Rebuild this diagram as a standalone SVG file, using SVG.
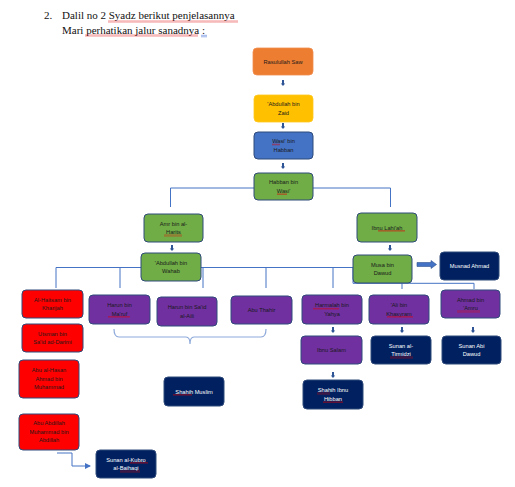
<svg xmlns="http://www.w3.org/2000/svg" width="515" height="487" viewBox="0 0 515 487">
<defs>
<style>
.t{font-family:"Liberation Sans",Arial,sans-serif;font-size:5.7px;fill:#1a1a1a;text-anchor:middle}
.w{fill:#ffffff}
.h{font-family:"Liberation Serif","Times New Roman",serif;font-size:11px;fill:#111}
.n{stroke:#2F4A7A;stroke-width:1}
.or{fill:#ED7D31;stroke:#F08D4F;stroke-width:0.8}
.ye{fill:#FFC000;stroke:#FFC81F;stroke-width:0.8}
.bl{fill:#4472C4}
.gr{fill:#70AD47}
.rd{fill:#FF0000}
.pu{fill:#7030A0}
.nv{fill:#002060}
.ln{fill:none;stroke:#4472C4;stroke-width:1}
.br{fill:none;stroke:#8EA9DB;stroke-width:1.2}
.sq{fill:url(#sqp)}
</style>
<pattern id="sqp" width="2" height="2" patternUnits="userSpaceOnUse">
<path d="M0,1.6 L1,0.4 L2,1.6" fill="none" stroke="#E00000" stroke-width="0.8"/>
</pattern>
<path id="da" d="M-1,0 H1 V3.5 H2.2 L0,6 L-2.2,3.5 H-1 Z" fill="#2F5597"/>
<marker id="ah" markerWidth="6" markerHeight="6" refX="5" refY="3" orient="auto" markerUnits="userSpaceOnUse">
<path d="M0,0 L6,3 L0,6 Z" fill="#4472C4"/>
</marker>
</defs>
<rect width="515" height="487" fill="#ffffff"/>

<g id="header">
<text class="h" x="44" y="19">2.</text>
<text class="h" x="62" y="19">Dalil no 2 Syadz berikut penjelasannya</text>
<text class="h" x="62" y="33.5">Mari perhatikan jalur sanadnya :</text>
<rect class="sq" x="108" y="20.5" width="130" height="2"/>
<rect class="sq" x="85" y="34.5" width="113" height="2"/>
<path d="M201,35.3 H207 M201,36.8 H207" stroke="#3060D0" stroke-width="0.5"/>
</g>

<g id="connectors">
<path class="ln" d="M170.5,207 V188 H390.5 V207"/>
<path class="ln" d="M56,288 V267.5 H353"/>
<path class="ln" d="M120,267.5 V288 M203,267.5 V288 M266,267.5 V288 M333,267.5 V288"/>
<path class="ln" d="M353,268 V283.3 H474 V289 M402,283.3 V289"/>
<path class="br" d="M114,329 Q114,337 119,337 H186 Q190,337 190,344 Q190,337 194,337 H261 Q266,337 266,329"/>
<path class="ln" d="M57,453 H72 V466 H90" marker-end="url(#ah)"/>
<use href="#da" x="283" y="80"/>
<use href="#da" x="283" y="123"/>
<use href="#da" x="283" y="163"/>
<use href="#da" x="172" y="245"/>
<use href="#da" x="390" y="245"/>
<use href="#da" x="333" y="327"/>
<use href="#da" x="402" y="327"/>
<use href="#da" x="473" y="327"/>
<use href="#da" x="333" y="372"/>
<path d="M417,262.5 H431 V260.5 L436.5,264.5 L431,268.5 V266.5 H417 Z" fill="#4472C4" stroke="#2F528F" stroke-width="0.6"/>
</g>

<g id="rasulullah"><rect class="or" x="253" y="48" width="60" height="27" rx="4"/><text class="t" x="283" y="63.5">Rasulullah Saw</text></g>
<g id="abdullah-zaid"><rect class="ye" x="254" y="95" width="59" height="27" rx="4"/><text class="t" x="283.5" y="106.3">'Abdullah bin</text><text class="t" x="283.5" y="114.8">Zaid</text></g>
<g id="wasi"><rect class="bl n" x="254" y="132" width="59" height="27" rx="4"/><text class="t" x="283.5" y="143.3">Wasi' bin</text><text class="t" x="283.5" y="151.8">Habban</text><rect class="sq" x="272" y="143.5" width="8" height="2"/></g>
<g id="habban"><rect class="gr n" x="254" y="173" width="59" height="27" rx="4"/><text class="t" x="283.5" y="184.3">Habban bin</text><text class="t" x="283.5" y="192.8">Wasi'</text><rect class="sq" x="277" y="193" width="10" height="2"/></g>
<g id="amr"><rect class="gr n" x="144" y="214" width="59" height="28" rx="4"/><text class="t" x="173.5" y="225.8">Amr bin al-</text><text class="t" x="173.5" y="234.3">Harits</text><rect class="sq" x="164" y="234.5" width="18" height="2"/></g>
<g id="abdullah-wahab"><rect class="gr n" x="141" y="253" width="60" height="28" rx="4"/><text class="t" x="171" y="264.8">'Abdullah bin</text><text class="t" x="171" y="273.3">Wahab</text></g>
<g id="ibnu-lahiah"><rect class="gr n" x="357" y="213" width="60" height="29" rx="4"/><text class="t" x="387" y="229.5">Ibnu Lahi'ah</text><rect class="sq" x="378" y="230" width="27" height="2"/></g>
<g id="musa"><rect class="gr n" x="353" y="255" width="59" height="28" rx="4"/><text class="t" x="382.5" y="266.8">Musa bin</text><text class="t" x="382.5" y="275.3">Dawud</text></g>
<g id="musnad-ahmad"><rect class="nv n" x="440" y="252" width="59" height="28" rx="4"/><text class="t w" x="469.5" y="268">Musnad Ahmad</text></g>
<g id="al-haitsam"><rect class="rd n" x="22" y="290" width="61" height="28" rx="4"/><text class="t" x="52.5" y="301.8">Al-Haitsam bin</text><text class="t" x="52.5" y="310.3">Kharijah</text></g>
<g id="utsman"><rect class="rd n" x="22" y="324" width="61" height="28" rx="4"/><text class="t" x="52.5" y="335.8">Utsman bin</text><text class="t" x="52.5" y="344.3">Sa'id ad-Darimi</text></g>
<g id="abu-al-hasan"><rect class="rd n" x="19" y="360" width="60" height="38" rx="4"/><text class="t" x="49" y="372">Abu al-Hasan</text><text class="t" x="49" y="380.5">Ahmad bin</text><text class="t" x="49" y="389">Muhammad</text></g>
<g id="abu-abdillah"><rect class="rd n" x="19" y="414" width="60" height="36" rx="4"/><text class="t" x="49" y="425">Abu Abdillah</text><text class="t" x="49" y="433.5">Muhammad bin</text><text class="t" x="49" y="442">Abdillah</text></g>
<g id="harun-maruf"><rect class="pu n" x="89" y="295" width="61" height="29" rx="4"/><text class="t" x="119.5" y="307.3">Harun bin</text><text class="t" x="119.5" y="315.8">Ma'ruf</text><rect class="sq" x="108" y="316" width="22" height="2"/></g>
<g id="harun-said"><rect class="pu n" x="157" y="297" width="60" height="29" rx="4"/><text class="t" x="187" y="309.3">Harun bin Sa'id</text><text class="t" x="187" y="317.8">al-Aili</text></g>
<g id="abu-thahir"><rect class="pu n" x="231" y="296" width="61" height="28" rx="4"/><text class="t" x="261.5" y="312">Abu Thahir</text></g>
<g id="harmalah"><rect class="pu n" x="302" y="295" width="60" height="29" rx="4"/><text class="t" x="332" y="307.3">Harmalah bin</text><text class="t" x="332" y="315.8">Yahya</text><rect class="sq" x="313" y="307.8" width="26" height="2"/></g>
<g id="ali-khasyram"><rect class="pu n" x="369" y="295" width="60" height="29" rx="4"/><text class="t" x="399" y="307.3">'Ali bin</text><text class="t" x="399" y="315.8">Khasyram</text><rect class="sq" x="387" y="316" width="26" height="2"/></g>
<g id="ahmad-amru"><rect class="pu n" x="441" y="290" width="59" height="28" rx="4"/><text class="t" x="470.5" y="301.8">Ahmad bin</text><text class="t" x="470.5" y="310.3">'Amru</text><rect class="sq" x="457" y="310.5" width="23" height="2"/></g>
<g id="ibnu-salam"><rect class="pu n" x="301" y="336" width="61" height="28" rx="4"/><text class="t" x="331.5" y="352">Ibnu Salam</text></g>
<g id="sunan-tirmidzi"><rect class="nv n" x="371" y="336" width="60" height="28" rx="4"/><text class="t w" x="401" y="347.8">Sunan al-</text><text class="t w" x="401" y="356.3">Tirmidzi</text><rect class="sq" x="390" y="356.5" width="23" height="2"/></g>
<g id="sunan-abi-dawud"><rect class="nv n" x="442" y="336" width="59" height="28" rx="4"/><text class="t w" x="471.5" y="347.8">Sunan Abi</text><text class="t w" x="471.5" y="356.3">Dawud</text></g>
<g id="shahih-ibnu-hibban"><rect class="nv n" x="303" y="380" width="60" height="29" rx="4"/><text class="t w" x="333" y="392.3">Shahih Ibnu</text><text class="t w" x="333" y="400.8">Hibban</text><rect class="sq" x="317" y="392.5" width="13" height="2"/><rect class="sq" x="323" y="401" width="20" height="2"/></g>
<g id="shahih-muslim"><rect class="nv n" x="164" y="377" width="60" height="29" rx="4"/><text class="t w" x="194" y="393.5">Shahih Muslim</text><rect class="sq" x="173" y="394" width="19" height="2"/></g>
<g id="sunan-kubro"><rect class="nv n" x="96" y="450" width="60" height="28" rx="4"/><text class="t w" x="126" y="461.8">Sunan al-Kubro</text><text class="t w" x="126" y="470.3">al-Baihaqi</text><rect class="sq" x="130" y="462" width="18" height="2"/><rect class="sq" x="120" y="470.5" width="20" height="2"/></g>
</svg>
